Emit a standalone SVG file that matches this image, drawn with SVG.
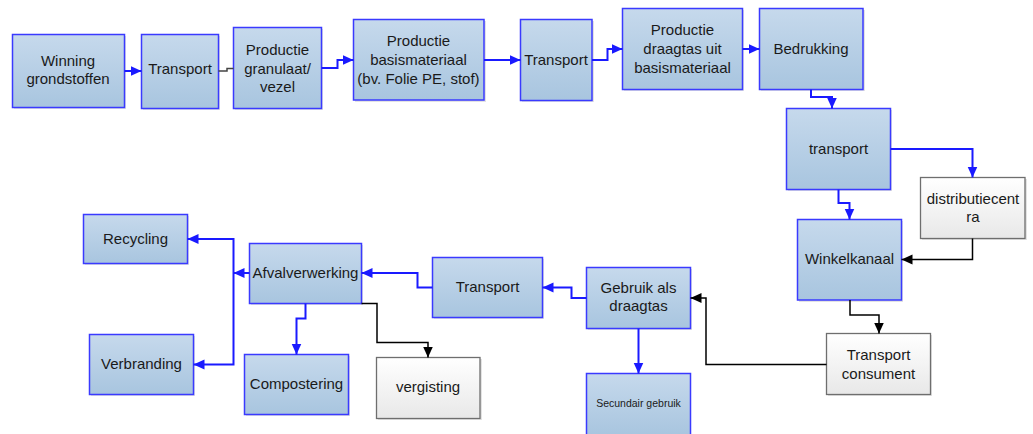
<svg xmlns="http://www.w3.org/2000/svg" width="1033" height="434" viewBox="0 0 1033 434">
<defs>
<linearGradient id="gb" x1="0" y1="0" x2="0" y2="1"><stop offset="0" stop-color="#c6d9ec"/><stop offset="1" stop-color="#a8c5df"/></linearGradient>
<linearGradient id="gw" x1="0" y1="0" x2="0" y2="1"><stop offset="0" stop-color="#ffffff"/><stop offset="1" stop-color="#e8e8e8"/></linearGradient>
<marker id="ab" markerUnits="userSpaceOnUse" markerWidth="12" markerHeight="12" viewBox="0 0 12 12" refX="11" refY="6" orient="auto"><path d="M0,1 L11,6 L0,11 Z" fill="#1a1aff"/></marker>
<marker id="ak" markerUnits="userSpaceOnUse" markerWidth="12" markerHeight="12" viewBox="0 0 12 12" refX="11" refY="6" orient="auto"><path d="M0,1 L11,6 L0,11 Z" fill="#000"/></marker>
</defs>
<style>
.b{fill:url(#gb);stroke:#3a3aff;stroke-width:1.5}
.w{fill:url(#gw);stroke:#6e6e6e;stroke-width:1.3}
.s{fill:#d0d0d0;opacity:.6}
text{font-family:"Liberation Sans",Arial,sans-serif;font-size:15px;fill:#1a1a1a;text-anchor:middle}
.cb{fill:none;stroke:#1a1aff;stroke-width:2;marker-end:url(#ab)}
.ck{fill:none;stroke:#000;stroke-width:1.5;marker-end:url(#ak)}
.cn{fill:none;stroke:#444;stroke-width:1.5}
</style>
<g id="n1"><rect class="s" x="14" y="36" width="112" height="73"/><rect class="b" x="12.5" y="34.5" width="112" height="73"/><text x="68" y="65.5">Winning</text><text x="68" y="83.5">grondstoffen</text></g>
<g id="n2"><rect class="s" x="143" y="36" width="77" height="74"/><rect class="b" x="141.5" y="34.5" width="77" height="74"/><text x="180" y="74">Transport</text></g>
<g id="n3"><rect class="s" x="235" y="29" width="88" height="81"/><rect class="b" x="233.5" y="27.5" width="88" height="81"/><text x="277.5" y="55">Productie</text><text x="277.5" y="73.5">granulaat/</text><text x="277.5" y="92">vezel</text></g>
<g id="n4"><rect class="s" x="355" y="21" width="131" height="81"/><rect class="b" x="353.5" y="19.5" width="130.5" height="80.5"/><text x="418.5" y="46">Productie</text><text x="418.5" y="65">basismateriaal</text><text x="418.5" y="83.5">(bv. Folie PE, stof)</text></g>
<g id="n5"><rect class="s" x="522" y="21" width="72" height="81"/><rect class="b" x="520.5" y="19.5" width="71.5" height="81"/><text x="556" y="65">Transport</text></g>
<g id="n6"><rect class="s" x="624" y="10" width="120" height="81"/><rect class="b" x="622.5" y="8.5" width="120" height="81"/><text x="682.5" y="35">Productie</text><text x="682.5" y="54">draagtas uit</text><text x="682.5" y="73">basismateriaal</text></g>
<g id="n7"><rect class="s" x="761" y="10" width="104" height="81"/><rect class="b" x="759.5" y="8.5" width="103.5" height="81"/><text x="811" y="54">Bedrukking</text></g>
<g id="n8"><rect class="s" x="788" y="110" width="104" height="81"/><rect class="b" x="786.5" y="108.5" width="104" height="81"/><text x="838.5" y="153.5">transport</text></g>
<g id="n9"><rect class="s" x="922" y="179" width="105" height="61"/><rect class="w" x="920.5" y="177.5" width="104.5" height="61"/><text x="973" y="203.5">distributiecent</text><text x="973" y="221.5">ra</text></g>
<g id="n10"><rect class="s" x="799" y="221" width="104" height="81"/><rect class="b" x="797.5" y="219.5" width="104" height="80.5"/><text x="849.5" y="264">Winkelkanaal</text></g>
<g id="n11"><rect class="s" x="828" y="335" width="104" height="61"/><rect class="w" x="826.5" y="333.5" width="104" height="61"/><text x="878.5" y="359.5">Transport</text><text x="878.5" y="378.5">consument</text></g>
<g id="n12"><rect class="s" x="588" y="269" width="104" height="61"/><rect class="b" x="586.5" y="267.5" width="104" height="61"/><text x="638.5" y="292.5">Gebruik als</text><text x="638.5" y="311">draagtas</text></g>
<g id="n13"><rect class="b" x="586.5" y="373.5" width="104" height="62"/><text x="638.5" y="407" style="font-size:10.5px">Secundair gebruik</text></g>
<g id="n14"><rect class="s" x="434" y="259" width="110" height="60"/><rect class="b" x="432.5" y="257.5" width="110" height="60"/><text x="487.5" y="292">Transport</text></g>
<g id="n15"><rect class="s" x="251" y="245" width="112" height="60"/><rect class="b" x="249.5" y="243.5" width="112" height="60"/><text x="305.5" y="277.5">Afvalverwerking</text></g>
<g id="n16"><rect class="s" x="85" y="216" width="104" height="49"/><rect class="b" x="83.5" y="214.5" width="104" height="49"/><text x="135.5" y="244">Recycling</text></g>
<g id="n17"><rect class="s" x="91" y="336" width="104" height="60"/><rect class="b" x="89.5" y="334.5" width="104" height="60"/><text x="141.5" y="369">Verbranding</text></g>
<g id="n18"><rect class="s" x="246" y="356" width="104" height="60"/><rect class="b" x="244.5" y="354.5" width="104" height="60"/><text x="296.5" y="389">Compostering</text></g>
<g id="n19"><rect class="s" x="378" y="359" width="104" height="61"/><rect class="w" x="376.5" y="357.5" width="103.5" height="61"/><text x="428" y="392">vergisting</text></g>
<g id="connectors">
<path class="cb" d="M124.5,71 H141.5"/>
<path class="cn" d="M218.5,71 H227 V68.5 H233.5"/>
<path class="cb" d="M321.5,68 H337.5 V60 H353.5"/>
<path class="cb" d="M484,60 H520.5"/>
<path class="cb" d="M592,60 H607.5 V49 H622.5"/>
<path class="cb" d="M742.5,49 H759.5"/>
<path class="cb" d="M811,89.5 V97 H832 V108.5"/>
<path class="cb" d="M890.5,149 H972.5 V177.5"/>
<path class="cb" d="M838.5,189.5 V203 H849.5 V219.5"/>
<path class="ck" d="M972.5,238.5 V259.5 H901.5"/>
<path class="ck" d="M850,300 V315 H879 V333.5"/>
<path class="ck" d="M826.5,364.5 H706 V298 H690.5"/>
<path class="cb" d="M638.5,328.5 V373.5"/>
<path class="cb" d="M586.5,298 H571.5 V287.5 H542.5"/>
<path class="cb" d="M432.5,287.5 H417.5 V273 H361.5"/>
<path class="cb" d="M249.5,273 H233.5"/>
<path class="cb" d="M233.5,273 V239 H187.5"/>
<path class="cb" d="M233.5,273 V364.5 H193.5"/>
<path class="cb" d="M305.5,303.5 V318.5 H296.5 V354.5"/>
<path class="ck" d="M361.5,303.5 H377 V342.5 H428 V357.5"/>
</g>
</svg>
